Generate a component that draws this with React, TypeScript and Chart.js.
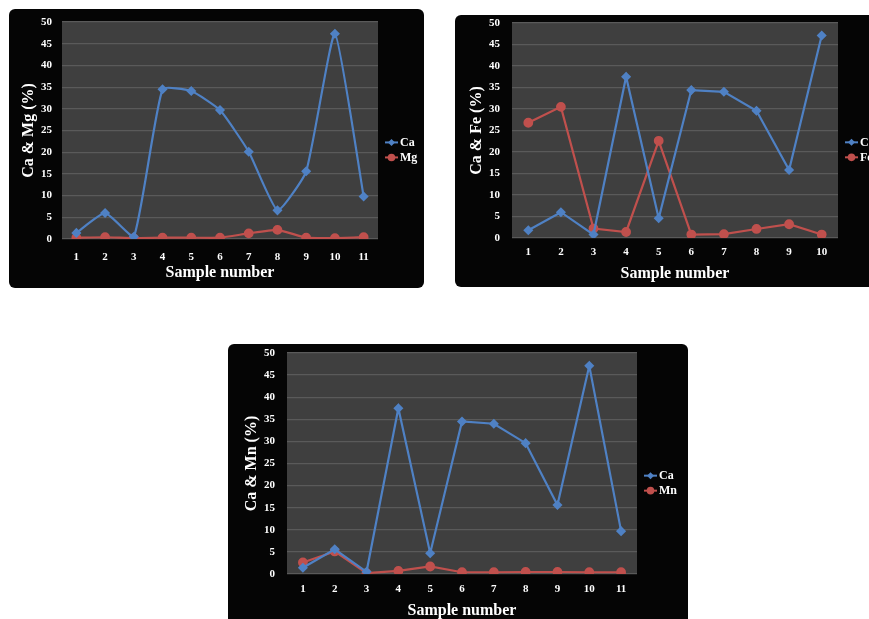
import React, { useEffect, useRef } from "react";
import { Chart, registerables } from "chart.js";

Chart.register(...registerables);

// ---------- data ----------
const samples11 = ["1", "2", "3", "4", "5", "6", "7", "8", "9", "10", "11"];
const samples10 = ["1", "2", "3", "4", "5", "6", "7", "8", "9", "10"];

const caA = [1.4, 6.0, 0.5, 34.5, 34.1, 29.7, 20.1, 6.6, 15.6, 47.3, 9.8];
const mgA = [0.3, 0.4, 0.2, 0.3, 0.3, 0.3, 1.3, 2.1, 0.3, 0.2, 0.4];

const caB = [1.8, 6.0, 0.8, 37.5, 4.6, 34.4, 34.0, 29.6, 15.8, 47.1];
const feB = [26.8, 30.5, 2.2, 1.4, 22.6, 0.8, 0.9, 2.1, 3.2, 0.8];

const caC = [1.4, 5.6, 0.5, 37.5, 4.7, 34.5, 34.0, 29.6, 15.6, 47.1, 9.7];
const mnC = [2.6, 5.1, 0.2, 0.7, 1.7, 0.4, 0.4, 0.45, 0.45, 0.4, 0.4];

const yMin = 0;
const yMax = 50;
const yStep = 5;

const BLUE = "#4f81c4";
const RED = "#c0504d";
const GRID = "#5a5a5a";
const PLOT_BG = "#3f3f3f";
const FONT = "'Liberation Serif', 'Times New Roman', serif";

const bgPlugin = {
  id: "plotBg",
  beforeDraw(chart: any) {
    const { ctx, chartArea } = chart;
    if (!chartArea) return;
    ctx.save();
    ctx.fillStyle = PLOT_BG;
    ctx.fillRect(chartArea.left, chartArea.top, chartArea.right - chartArea.left, chartArea.bottom - chartArea.top);
    ctx.restore();
  },
};

const legendPlugin = {
  id: "sideLegend",
  afterDraw(chart: any, _args: any, opts: any) {
    const { ctx, chartArea } = chart;
    const x0 = chartArea.right + opts.dx;
    let y = chartArea.top + (chartArea.bottom - chartArea.top) * opts.frac;
    ctx.save();
    chart.data.datasets.forEach((ds: any) => {
      ctx.strokeStyle = ds.borderColor;
      ctx.lineWidth = 2;
      ctx.beginPath();
      ctx.moveTo(x0, y);
      ctx.lineTo(x0 + 13, y);
      ctx.stroke();
      ctx.fillStyle = ds.backgroundColor;
      ctx.beginPath();
      const cx = x0 + 6.5;
      if (ds.pointStyle === "rectRot") {
        ctx.moveTo(cx, y - 3.5);
        ctx.lineTo(cx + 3.5, y);
        ctx.lineTo(cx, y + 3.5);
        ctx.lineTo(cx - 3.5, y);
        ctx.closePath();
      } else {
        ctx.arc(cx, y, 3.8, 0, Math.PI * 2);
      }
      ctx.fill();
      ctx.fillStyle = "#ffffff";
      ctx.font = `bold 12px ${FONT}`;
      ctx.textBaseline = "middle";
      ctx.textAlign = "left";
      ctx.fillText(ds.label, x0 + 15, y + 0.5);
      y += opts.gap;
    });
    ctx.restore();
  },
};

type Geom = {
  w: number;
  h: number;
  padTop: number;
  padRight: number;
  yW: number;
  xH: number;
  yTitlePad: number;
  yTickPad: number;
  xTickPad: number;
  xTitlePad: number;
  tension: number;
};

function LineChart(props: {
  labels: string[];
  s1: number[];
  s1Label: string;
  s2: number[];
  s2Label: string;
  yTitle: string;
  g: Geom;
  left: number;
  top: number;
}) {
  const ref = useRef<HTMLCanvasElement>(null);
  const { labels, s1, s1Label, s2, s2Label, yTitle, g } = props;
  useEffect(() => {
    if (!ref.current) return;
    const tickFont = { family: FONT, size: 11, weight: "bold" as const };
    const titleFont = { family: FONT, size: 16, weight: "bold" as const };
    const chart = new Chart(ref.current, {
      type: "line",
      data: {
        labels,
        datasets: [
          {
            label: s1Label,
            data: s1,
            borderColor: BLUE,
            backgroundColor: BLUE,
            pointBackgroundColor: BLUE,
            pointBorderColor: BLUE,
            pointStyle: "rectRot",
            pointRadius: 3.5,
            borderWidth: 2.2,
            tension: g.tension,
          },
          {
            label: s2Label,
            data: s2,
            borderColor: RED,
            backgroundColor: RED,
            pointBackgroundColor: RED,
            pointBorderColor: RED,
            pointStyle: "circle",
            pointRadius: 3.8,
            borderWidth: 2.2,
            tension: g.tension,
          },
        ],
      },
      options: {
        animation: false,
        responsive: false,
        devicePixelRatio: 1,
        layout: { padding: { top: g.padTop, right: g.padRight, left: 0, bottom: 0 } },
        plugins: {
          legend: { display: false },
          tooltip: { enabled: false },
          // @ts-ignore
          sideLegend: { dx: 7, frac: 0.555, gap: 15 },
        },
        scales: {
          x: {
            offset: true,
            grid: { display: false, drawTicks: false },
            border: { display: false },
            ticks: { color: "#ffffff", font: tickFont, padding: g.xTickPad, maxRotation: 0 },
            title: { display: true, text: "Sample number", color: "#ffffff", font: titleFont, padding: { top: 0, bottom: g.xTitlePad } },
            afterFit: (s: any) => {
              s.height = g.xH;
              s.paddingLeft = 0;
              s.paddingRight = 0;
            },
          },
          y: {
            min: yMin,
            max: yMax,
            ticks: { stepSize: yStep, color: "#ffffff", font: tickFont, padding: g.yTickPad },
            grid: { color: GRID, drawTicks: false, lineWidth: 1.2 },
            border: { display: false },
            title: { display: true, text: yTitle, color: "#ffffff", font: titleFont, padding: { top: g.yTitlePad, bottom: 0 } },
            afterFit: (s: any) => {
              s.width = g.yW;
              s.paddingTop = 0;
              s.paddingBottom = 0;
            },
          },
        },
      },
      plugins: [bgPlugin, legendPlugin],
    });
    return () => chart.destroy();
  }, []);
  return (
    <div
      style={{
        position: "absolute",
        left: props.left,
        top: props.top,
        width: g.w,
        height: g.h,
        background: "#050505",
        borderRadius: 6,
        overflow: "hidden",
      }}
    >
      <canvas ref={ref} width={g.w} height={g.h} style={{ width: g.w, height: g.h, display: "block" }} />
    </div>
  );
}

const geomA: Geom = { w: 415, h: 279, padTop: 13, padRight: 46, yW: 53, xH: 49, yTitlePad: 10, yTickPad: 10, xTickPad: 12, xTitlePad: 6, tension: 0.15 };
const geomB: Geom = { w: 430, h: 272, padTop: 8, padRight: 47, yW: 57, xH: 49, yTitlePad: 12, yTickPad: 12, xTickPad: 8, xTitlePad: 4, tension: 0 };
const geomC: Geom = { w: 460, h: 280, padTop: 9, padRight: 51, yW: 59, xH: 50, yTitlePad: 14, yTickPad: 12, xTickPad: 9, xTitlePad: 4, tension: 0 };

export default function App() {
  return (
    <div style={{ position: "absolute", left: 0, top: 0, width: 869, height: 619, overflow: "hidden", background: "#ffffff" }}>
      <LineChart labels={samples11} s1={caA} s1Label="Ca" s2={mgA} s2Label="Mg" yTitle="Ca & Mg (%)" g={geomA} left={9} top={9} />
      <LineChart labels={samples10} s1={caB} s1Label="Ca" s2={feB} s2Label="Fe" yTitle="Ca & Fe (%)" g={geomB} left={455} top={15} />
      <LineChart labels={samples11} s1={caC} s1Label="Ca" s2={mnC} s2Label="Mn" yTitle="Ca & Mn (%)" g={geomC} left={228} top={344} />
    </div>
  );
}
